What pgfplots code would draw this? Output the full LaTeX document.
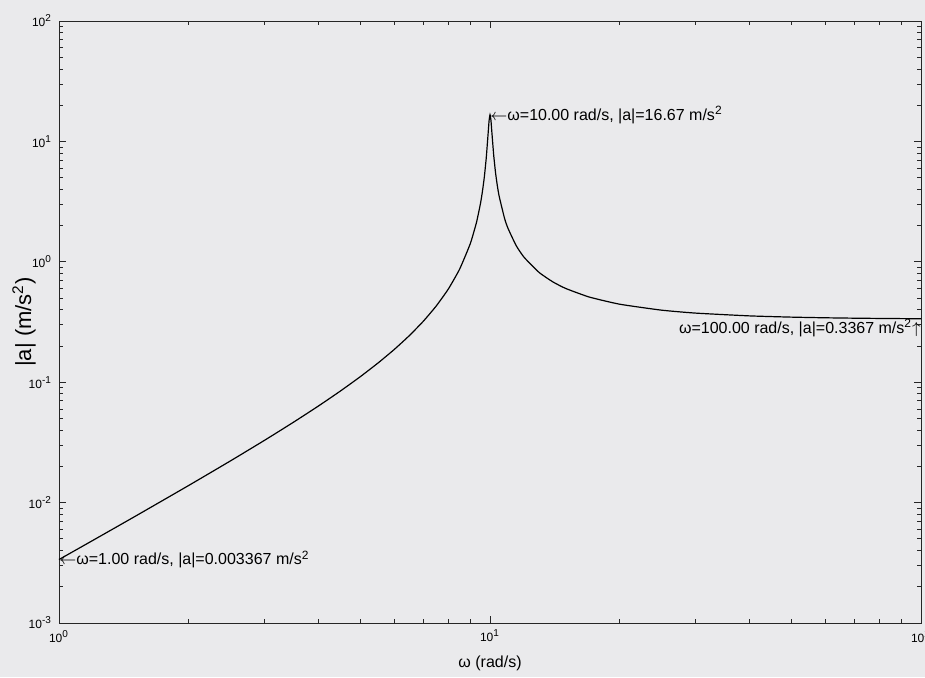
\documentclass[border=0pt]{standalone}
\usepackage{fontspec}
\setmainfont{Liberation Sans}
\usepackage{pgfplots}
\pgfplotsset{compat=1.18}
\definecolor{bg}{RGB}{234,234,236}
\begin{document}
\begin{tikzpicture}
\fill[bg] (-29.5pt,-27pt) rectangle (433pt,311.5pt);
\begin{axis}[
  at={(0,0)}, anchor=south west,
  scale only axis, width=431pt, height=301pt,
  xmode=log, ymode=log,
  xmin=1, xmax=100, ymin=1e-3, ymax=1e2,
  xtick={1,10,100},
  xticklabels={10\textsuperscript{0},10\textsuperscript{1},10\textsuperscript{2}},
  ytick={1e-3,1e-2,1e-1,1,10,100},
  yticklabels={10\textsuperscript{-3},10\textsuperscript{-2},10\textsuperscript{-1},10\textsuperscript{0},10\textsuperscript{1},10\textsuperscript{2}},
  minor xtick={2,3,4,5,6,7,8,9,20,30,40,50,60,70,80,90},
  minor ytick={0.002,0.003,0.004,0.005,0.006,0.007,0.008,0.009,
               0.02,0.03,0.04,0.05,0.06,0.07,0.08,0.09,
               0.2,0.3,0.4,0.5,0.6,0.7,0.8,0.9,
               2,3,4,5,6,7,8,9,20,30,40,50,60,70,80,90},
  tick align=inside,
  major tick length=3.5pt, minor tick length=2pt,
  axis line style={black!85, line width=0.5pt},
  tick style={black!85, line width=0.4pt},
  ticklabel style={font=\fontsize{6}{7}\selectfont},
  xlabel={ω (rad/s)},
  ylabel={|a| (m/s\textsuperscript{2})},
  xlabel style={font=\fontsize{8}{9}\selectfont, at={(axis description cs:0.5,-0.0664)}, anchor=center},
  ylabel style={font=\fontsize{11}{12}\selectfont, at={(axis description cs:-0.0406,0.5)}, anchor=center},
  clip=false,
]
\addplot[black, line width=0.6pt, smooth, tension=0.3] coordinates {
(1,0.003367) (1.2,0.004870) (1.5,0.007673) (2,0.013889) (2.5,0.022222)
(3,0.032967) (3.5,0.046534) (4,0.063492) (4.5,0.084639) (5,0.11111)
(5.5,0.14456) (6,0.1875) (6.5,0.24387) (7,0.32026) (7.5,0.42857)
(8,0.59259) (8.5,0.86787) (9,1.4147) (9.3,2.1141) (9.5,3.0286)
(9.6,3.8058) (9.7,5.0423) (9.8,7.246) (9.9,11.64) (9.95,14.825)
(10,16.667) (10.05,14.99) (10.1,11.93) (10.2,7.662) (10.3,5.5006)
(10.4,4.2813) (10.5,3.5124) (10.8,2.3171) (11,1.9102) (11.5,1.3634)
(12,1.0893) (13,0.8158) (14,0.6803) (15,0.5998) (17,0.5096)
(20,0.4444) (25,0.3968) (30,0.375) (40,0.35556) (50,0.34722)
(60,0.34286) (70,0.34028) (80,0.33862) (90,0.3375) (100,0.3367)
};
\node[anchor=west, inner sep=0pt, font=\fontsize{8}{9}\selectfont] at (axis cs:1,0.003367)
  {$\leftarrow$ω=1.00 rad/s, |a|=0.003367 m/s\textsuperscript{2}};
\node[anchor=west, inner sep=0pt, font=\fontsize{8}{9}\selectfont] at (axis cs:10,16.667)
  {$\leftarrow$ω=10.00 rad/s, |a|=16.67 m/s\textsuperscript{2}};
\node[anchor=north east, inner sep=0pt, font=\fontsize{8}{9}\selectfont] at (axis cs:100,0.3367)
  {ω=100.00 rad/s, |a|=0.3367 m/s\textsuperscript{2}$\uparrow$};
\end{axis}
\pgfresetboundingbox
\useasboundingbox (-29.5pt,-27pt) rectangle (433pt,311.5pt);
\end{tikzpicture}
\end{document}
